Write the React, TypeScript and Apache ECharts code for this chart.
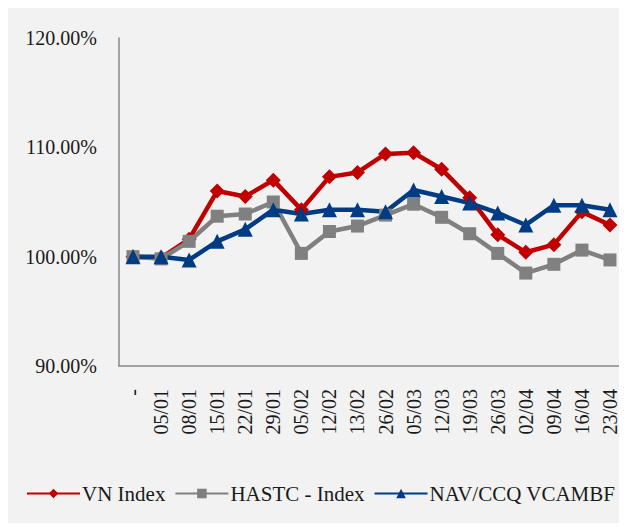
import React, { useEffect, useRef } from "react";
import * as echarts from "echarts";

const categories = ["-", "05/01", "08/01", "15/01", "22/01", "29/01", "05/02", "12/02", "13/02", "26/02", "05/03", "12/03", "19/03", "26/03", "02/04", "09/04", "16/04", "23/04"];
const vnIndex = [100.0, 99.9, 101.6, 106.0, 105.5, 107.0, 104.3, 107.3, 107.7, 109.4, 109.5, 108.0, 105.4, 102.0, 100.4, 101.1, 104.1, 102.9];
const hastcIndex = [100.0, 99.8, 101.4, 103.7, 103.9, 105.0, 100.3, 102.3, 102.8, 103.8, 104.8, 103.6, 102.1, 100.3, 98.5, 99.3, 100.6, 99.7];
const navVcambf = [100.0, 100.0, 99.7, 101.4, 102.5, 104.3, 103.9, 104.3, 104.3, 104.1, 106.1, 105.5, 104.9, 104.0, 102.9, 104.7, 104.7, 104.3];
const seriesNames = ["VN Index", "HASTC - Index", "NAV/CCQ VCAMBF"];
const yTicks = { min: 90, max: 120, interval: 10 };

const FONT = "'Liberation Serif', 'DejaVu Serif', serif";

export default function App() {
  const ref = useRef<HTMLDivElement>(null);
  useEffect(() => {
    if (!ref.current) return;
    const chart = echarts.init(ref.current, null, { renderer: "svg" });
    const mk = (name: string, data: number[], color: string, symbol: string, size: number) => ({
      name,
      type: "line",
      data,
      symbol,
      symbolSize: size,
      lineStyle: { color, width: 4.5 },
      itemStyle: { color },
      emphasis: { disabled: true },
    });
    chart.setOption({
      animation: false,
      backgroundColor: "#f2f2f2",
      textStyle: { fontFamily: FONT },
      grid: { left: 111, top: 30, right: 1, bottom: 165, containLabel: false },
      legend: {
        left: 13,
        top: 470,
        width: 900,
        itemWidth: 53,
        itemHeight: 12,
        itemGap: 9,
        textStyle: { fontFamily: FONT, fontSize: 21, color: "#1a1a1a", padding: [0, 0, 0, -3] },
        data: seriesNames,
      },
      xAxis: {
        type: "category",
        data: categories,
        boundaryGap: true,
        axisLine: { show: true, lineStyle: { color: "#888888", width: 1.5 } },
        axisTick: { show: false },
        axisLabel: { rotate: 90, margin: 23, interval: 0, fontFamily: FONT, fontSize: 20, color: "#1a1a1a" },
        splitLine: { show: false },
      },
      yAxis: {
        type: "value",
        min: yTicks.min,
        max: yTicks.max,
        interval: yTicks.interval,
        axisLine: { show: true, lineStyle: { color: "#888888", width: 1.5 } },
        axisTick: { show: false },
        splitLine: { show: false },
        axisLabel: {
          margin: 22,
          fontFamily: FONT,
          fontSize: 20,
          color: "#1a1a1a",
          formatter: (v: number) => v.toFixed(2) + "%",
        },
      },
      series: [
        mk(seriesNames[0], vnIndex, "#c00000", "diamond", 15),
        mk(seriesNames[1], hastcIndex, "#808080", "rect", 13),
        mk(seriesNames[2], navVcambf, "#003c84", "triangle", 15),
      ],
    });
    return () => chart.dispose();
  }, []);
  return <div ref={ref} style={{ width: 617, height: 523, marginBottom: -8 }} />;
}
